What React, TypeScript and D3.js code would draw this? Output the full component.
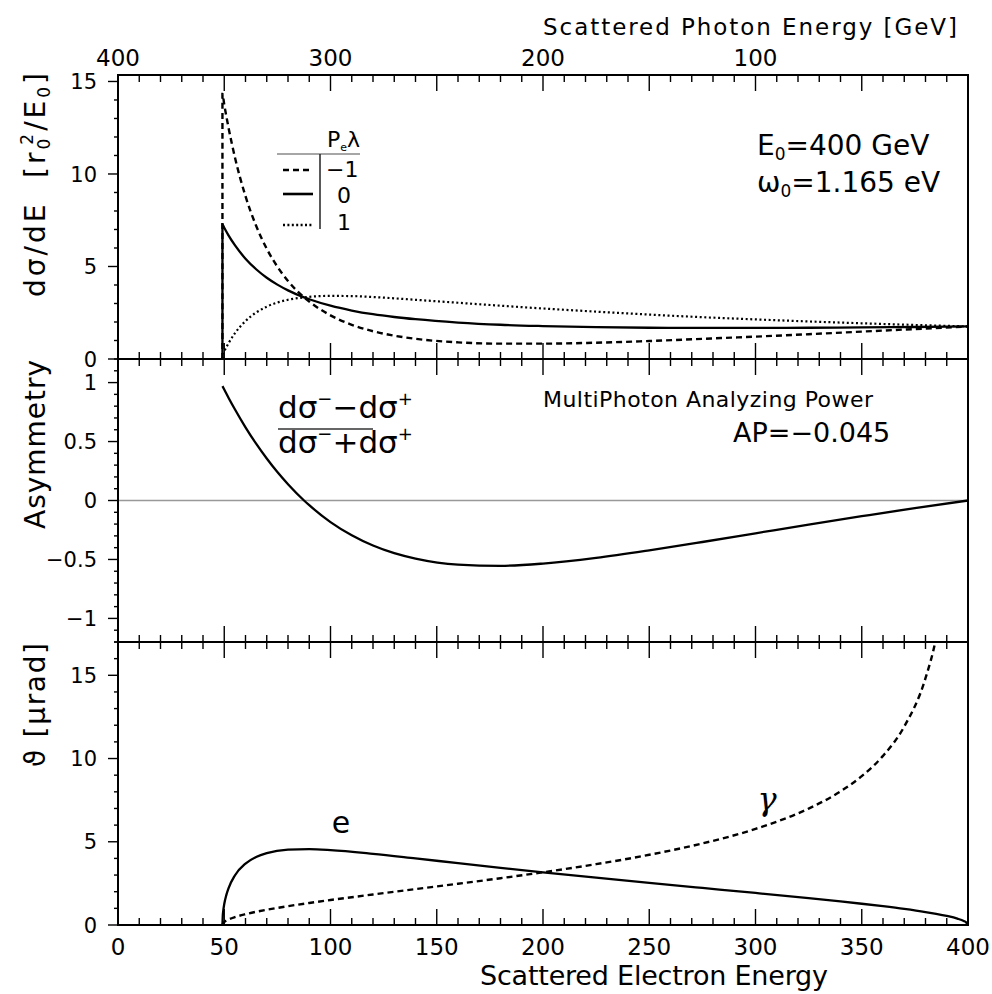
import React from "react";
import * as d3 from "d3";

// ---------- data ----------
const E_EDGE = 49.15; // Compton edge, scattered electron energy [GeV]

// top + middle panel: scattered electron energy grid
const E_TOP = [49.15, 50, 52, 55, 60, 65, 70, 75, 80, 87.55, 90, 100, 110, 120, 130, 140, 160, 180, 200, 225, 250, 275, 300, 325, 350, 375, 400];
// dσ/dE for Pλ = -1 (dashed)
const SIG_MINUS = [14.33, 13.75, 12.51, 10.91, 8.80, 7.20, 5.96, 4.99, 4.22, 3.33, 3.10, 2.36, 1.85, 1.50, 1.26, 1.09, 0.90, 0.83, 0.83, 0.88, 0.97, 1.09, 1.21, 1.34, 1.48, 1.62, 1.76];
// dσ/dE for Pλ = 0 (solid)
const SIG_ZERO = [7.27, 7.09, 6.68, 6.15, 5.42, 4.85, 4.39, 4.02, 3.71, 3.33, 3.23, 2.88, 2.62, 2.42, 2.27, 2.15, 1.97, 1.85, 1.78, 1.72, 1.69, 1.68, 1.68, 1.69, 1.71, 1.73, 1.76];
// dσ/dE for Pλ = +1 (dotted)
const SIG_PLUS = [0.22, 0.42, 0.85, 1.39, 2.05, 2.51, 2.83, 3.05, 3.20, 3.33, 3.36, 3.41, 3.40, 3.35, 3.28, 3.20, 3.04, 2.88, 2.73, 2.56, 2.40, 2.26, 2.14, 2.03, 1.93, 1.84, 1.76];
// asymmetry
const ASYM = [0.970, 0.941, 0.872, 0.774, 0.621, 0.482, 0.356, 0.241, 0.138, 0, -0.040, -0.183, -0.295, -0.382, -0.447, -0.493, -0.544, -0.554, -0.535, -0.487, -0.423, -0.352, -0.278, -0.204, -0.133, -0.064, 0];

// bottom panel: scattering angles
const E_ANG_E = [49.15, 49.3, 49.5, 50, 51, 52, 55, 60, 65, 70, 80, 90, 100, 120, 140, 160, 180, 200, 225, 250, 275, 300, 325, 340, 350, 360, 370, 380, 385, 390, 395, 398, 399, 400];
const THETA_E = [0, 0.539, 0.818, 1.259, 1.811, 2.204, 2.975, 3.688, 4.085, 4.318, 4.526, 4.557, 4.502, 4.278, 4.001, 3.716, 3.436, 3.166, 2.842, 2.531, 2.227, 1.924, 1.613, 1.416, 1.277, 1.129, 0.967, 0.780, 0.672, 0.546, 0.384, 0.242, 0.171, 0];
const E_ANG_G = [49.15, 49.5, 50, 51, 52, 55, 60, 65, 70, 80, 90, 100, 120, 140, 160, 180, 200, 225, 250, 275, 300, 325, 340, 350, 360, 370, 380, 385, 390];
const THETA_G = [0, 0.116, 0.180, 0.265, 0.329, 0.474, 0.651, 0.793, 0.916, 1.132, 1.323, 1.501, 1.833, 2.155, 2.477, 2.811, 3.166, 3.654, 4.218, 4.899, 5.773, 6.990, 8.025, 8.941, 10.161, 11.920, 14.825, 17.248, 21.28];

// ticks
const X_MAJOR = [0, 50, 100, 150, 200, 250, 300, 350, 400];
const X_MINOR = d3.range(0, 401, 10);
const X_LABELS = ["0", "50", "100", "150", "200", "250", "300", "350", "400"];
const PHOTON_LABELS = [400, 300, 200, 100];
const Y1_MAJOR = [0, 5, 10, 15];
const Y1_MINOR = d3.range(0, 16, 1);
const Y2_MAJOR = [-1, -0.5, 0, 0.5, 1];
const Y2_LABELS = ["\u22121", "\u22120.5", "0", "0.5", "1"];
const Y2_MINOR = d3.range(-12, 13, 1).map((v) => v / 10);
const Y3_MAJOR = [0, 5, 10, 15];
const Y3_MINOR = d3.range(0, 18, 1);

// ---------- layout ----------
const W = 992;
const H = 994;
const X0 = 118;
const X1 = 968;
const P1 = { top: 75, bottom: 359 };
const P2 = { top: 359, bottom: 642 };
const P3 = { top: 642, bottom: 925 };
const FONT = "'DejaVu Sans', Verdana, sans-serif";

const x = d3.scaleLinear().domain([0, 400]).range([X0, X1]);
const y1 = d3.scaleLinear().domain([0, 15.35]).range([P1.bottom, P1.top]);
const y2 = d3.scaleLinear().domain([-1.2, 1.2]).range([P2.bottom, P2.top]);
const y3 = d3.scaleLinear().domain([0, 17]).range([P3.bottom, P3.top]);

type Pt = [number, number];
const zip = (xs: number[], ys: number[]): Pt[] => xs.map((v, i) => [v, ys[i]] as Pt);

function makeLine(ys: d3.ScaleLinear<number, number>) {
  return d3
    .line<Pt>()
    .x((d) => x(d[0]))
    .y((d) => ys(d[1]))
    .curve(d3.curveMonotoneX);
}

function XTicks({ yPos, dir }: { yPos: number; dir: number }) {
  return (
    <g stroke="#000" strokeWidth={1.4}>
      {X_MINOR.map((v) => {
        const major = X_MAJOR.includes(v);
        const len = major ? 16 : 7;
        return <line key={v} x1={x(v)} x2={x(v)} y1={yPos} y2={yPos + dir * len} />;
      })}
    </g>
  );
}

function YTicks({
  scale,
  minor,
  major,
  labels,
}: {
  scale: d3.ScaleLinear<number, number>;
  minor: number[];
  major: number[];
  labels: string[];
}) {
  return (
    <g>
      <g stroke="#000" strokeWidth={1.4}>
        {minor.map((v) => {
          const isMajor = major.some((m) => Math.abs(m - v) < 1e-9);
          const len = isMajor ? 10 : 4;
          return <line key={v} x1={X0} x2={X0 - len} y1={scale(v)} y2={scale(v)} />;
        })}
      </g>
      {major.map((v, i) => (
        <text
          key={v}
          x={97}
          y={scale(v)}
          dy="0.36em"
          textAnchor="end"
          fontSize={21}
          fontFamily={FONT}
          fill="#000"
        >
          {labels[i]}
        </text>
      ))}
    </g>
  );
}

export default function App() {
  const l1 = makeLine(y1);
  const l2 = makeLine(y2);
  const l3 = makeLine(y3);

  const edgeStart: Pt = [E_EDGE, 0];
  const dMinus = l1([edgeStart, ...zip(E_TOP, SIG_MINUS)]) || "";
  const dZero = l1([edgeStart, ...zip(E_TOP, SIG_ZERO)]) || "";
  const dPlus = l1([edgeStart, ...zip(E_TOP, SIG_PLUS)]) || "";
  const dAsym = l2(zip(E_TOP, ASYM)) || "";
  const dThE = l3(zip(E_ANG_E, THETA_E)) || "";
  const dThG = l3(zip(E_ANG_G, THETA_G)) || "";

  return (
    <svg
      width={W}
      height={H}
      viewBox={`0 0 ${W} ${H}`}
      style={{ position: "absolute", left: 0, top: 0, background: "#fff" }}
    >
      <rect x={0} y={0} width={W} height={H} fill="#fff" />
      <defs>
        <clipPath id="clip3">
          <rect x={X0} y={P3.top} width={X1 - X0} height={P3.bottom - P3.top} />
        </clipPath>
        <clipPath id="clip1">
          <rect x={X0} y={P1.top} width={X1 - X0} height={P1.bottom - P1.top} />
        </clipPath>
      </defs>

      {/* top title */}
      <text x={543} y={35} fontSize={23} fontFamily={FONT} textLength={414} lengthAdjust="spacing">
        Scattered Photon Energy [GeV]
      </text>
      {/* photon energy tick labels */}
      {PHOTON_LABELS.map((p) => (
        <text key={p} x={x(400 - p)} y={66} textAnchor="middle" fontSize={23} fontFamily={FONT}>
          {p}
        </text>
      ))}

      {/* ---- panel 1 ---- */}
      <XTicks yPos={P1.top} dir={1} />
      <XTicks yPos={P1.bottom} dir={-1} />
      <YTicks scale={y1} minor={Y1_MINOR} major={Y1_MAJOR} labels={Y1_MAJOR.map(String)} />
      <g clipPath="url(#clip1)" fill="none" stroke="#000">
        <path d={dMinus} strokeWidth={2.4} strokeDasharray="6,4" />
        <path d={dPlus} strokeWidth={2.2} strokeDasharray="2,2.6" />
        <path d={dZero} strokeWidth={2.3} />
      </g>
      {/* legend */}
      <text x={360} y={147} textAnchor="end" fontSize={22} fontFamily={FONT}>
        P<tspan fontSize={11} dy={4}>e</tspan>
        <tspan dy={-4}>λ</tspan>
      </text>
      <line x1={277} x2={360} y1={154} y2={154} stroke="#888" strokeWidth={1.5} />
      <line x1={320} x2={320} y1={154} y2={229} stroke="#222" strokeWidth={1.5} />
      <line x1={283} x2={313} y1={170} y2={170} stroke="#000" strokeWidth={2.6} strokeDasharray="6,4" />
      <line x1={283} x2={313} y1={194} y2={194} stroke="#000" strokeWidth={2.6} />
      <line x1={283} x2={313} y1={225} y2={225} stroke="#000" strokeWidth={2.4} strokeDasharray="2,2.4" />
      <text x={326} y={177} fontSize={22} fontFamily={FONT}>
        −1
      </text>
      <text x={344} y={203} textAnchor="middle" fontSize={22} fontFamily={FONT}>
        0
      </text>
      <text x={344} y={230} textAnchor="middle" fontSize={22} fontFamily={FONT}>
        1
      </text>
      {/* beam parameters */}
      <text x={757} y={155} fontSize={28} fontFamily={FONT}>
        E<tspan fontSize={17} dy={5}>0</tspan>
        <tspan dy={-5}>=400 GeV</tspan>
      </text>
      <text x={757} y={192} fontSize={28} fontFamily={FONT}>
        ω<tspan fontSize={17} dy={5}>0</tspan>
        <tspan dy={-5}>=1.165 eV</tspan>
      </text>
      {/* y title panel 1 */}
      <text
        transform={`translate(45, ${P1.top - 2}) rotate(-90)`}
        textAnchor="end"
        fontSize={28}
        fontFamily={FONT}
        textLength={224}
        lengthAdjust="spacing"
      >
        {"dσ/dE\u00A0\u00A0[r"}
        <tspan fontSize={17} dy={5}>0</tspan>
        <tspan fontSize={17} dx={-9} dy={-17}>2</tspan>
        <tspan dy={12}>/E</tspan>
        <tspan fontSize={17} dy={5}>0</tspan>
        <tspan dy={-5}>]</tspan>
      </text>

      {/* ---- panel 2 ---- */}
      <XTicks yPos={P2.top} dir={1} />
      <XTicks yPos={P2.bottom} dir={-1} />
      <YTicks scale={y2} minor={Y2_MINOR} major={Y2_MAJOR} labels={Y2_LABELS} />
      <line x1={X0} x2={X1} y1={y2(0)} y2={y2(0)} stroke="#999" strokeWidth={1.5} />
      <path d={dAsym} fill="none" stroke="#000" strokeWidth={2.3} />
      {/* fraction */}
      <text x={278} y={418} fontSize={31} fontFamily={FONT}>
        dσ<tspan fontSize={18} dy={-13}>−</tspan>
        <tspan dy={13}>−dσ</tspan>
        <tspan fontSize={18} dy={-13}>+</tspan>
      </text>
      <line x1={278} x2={373} y1={429} y2={429} stroke="#333" strokeWidth={1.5} />
      <text x={278} y={453} fontSize={31} fontFamily={FONT}>
        dσ<tspan fontSize={18} dy={-13}>−</tspan>
        <tspan dy={13}>+dσ</tspan>
        <tspan fontSize={18} dy={-13}>+</tspan>
      </text>
      <text x={543} y={407} fontSize={22} fontFamily={FONT} textLength={330} lengthAdjust="spacing">
        MultiPhoton Analyzing Power
      </text>
      <text x={733} y={442} fontSize={27} fontFamily={FONT}>
        AP=−0.045
      </text>
      <text
        transform={`translate(45, ${P2.top + 1}) rotate(-90)`}
        textAnchor="end"
        fontSize={28}
        fontFamily={FONT}
        textLength={169}
        lengthAdjust="spacing"
      >
        Asymmetry
      </text>

      {/* ---- panel 3 ---- */}
      <XTicks yPos={P3.top} dir={1} />
      <XTicks yPos={P3.bottom} dir={-1} />
      <YTicks scale={y3} minor={Y3_MINOR} major={Y3_MAJOR} labels={Y3_MAJOR.map(String)} />
      <g clipPath="url(#clip3)" fill="none" stroke="#000">
        <path d={dThG} strokeWidth={2.4} strokeDasharray="6,4" />
        <path d={dThE} strokeWidth={2.3} />
      </g>
      <text x={341} y={833} textAnchor="middle" fontSize={30} fontFamily={FONT}>
        e
      </text>
      <text
        x={767}
        y={810}
        textAnchor="middle"
        fontSize={32}
        fontStyle="italic"
        fontFamily="'DejaVu Serif', 'Liberation Serif', serif"
      >
        γ
      </text>
      <text
        transform={`translate(45, ${P3.top + 1}) rotate(-90)`}
        textAnchor="end"
        fontSize={28}
        fontFamily={FONT}
        textLength={124}
        lengthAdjust="spacing"
      >
        ϑ [μrad]
      </text>

      {/* bottom axis labels */}
      {X_MAJOR.map((v, i) => (
        <text key={v} x={x(v)} y={955} textAnchor="middle" fontSize={23} fontFamily={FONT}>
          {X_LABELS[i]}
        </text>
      ))}
      <text x={480} y={985} fontSize={27} fontFamily={FONT} textLength={348} lengthAdjust="spacing">
        Scattered Electron Energy
      </text>

      {/* frame */}
      <rect
        x={X0}
        y={P1.top}
        width={X1 - X0}
        height={P3.bottom - P1.top}
        fill="none"
        stroke="#000"
        strokeWidth={2}
      />
      <line x1={X0} x2={X1} y1={P1.bottom} y2={P1.bottom} stroke="#000" strokeWidth={2} />
      <line x1={X0} x2={X1} y1={P2.bottom} y2={P2.bottom} stroke="#000" strokeWidth={2} />
    </svg>
  );
}
